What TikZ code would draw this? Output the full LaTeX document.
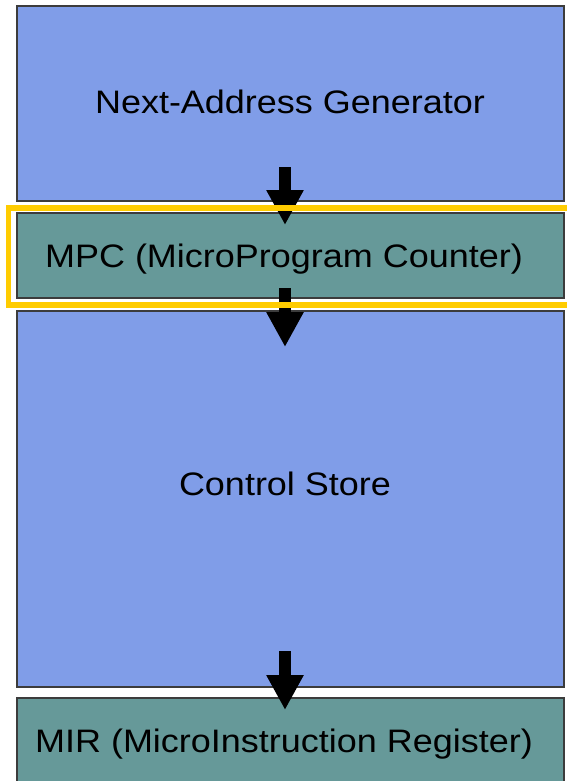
\documentclass[tikz,border=0pt]{standalone}
\usepackage{fontspec}
\setmainfont[FakeStretch=1.107]{Liberation Sans}
\usetikzlibrary{arrows.meta}

\definecolor{blockblue}{RGB}{128,157,232}
\definecolor{regteal}{RGB}{102,153,153}
\definecolor{hiyellow}{RGB}{255,204,0}
\definecolor{edgegray}{RGB}{60,60,60}

\tikzset{
  block/.style={draw=edgegray, line width=1.2pt},
  label/.style={anchor=base, inner sep=0pt, font=\fontsize{32.5}{36}\selectfont},
  flow/.style={line width=12pt, -{Triangle[width=35pt,length=35pt]}},
  highlight/.style={draw=hiyellow, line width=5.5pt}
}

\begin{document}
\begin{tikzpicture}[x=1pt,y=-1pt]
  \useasboundingbox (0,0) rectangle (567,781);
  \clip (0,0) rectangle (567,781);

  % stacked blocks
  \filldraw[block, fill=blockblue] (17,6) rectangle (564,201);
  \filldraw[block, fill=regteal]   (17,213) rectangle (564,298);
  \filldraw[block, fill=blockblue] (17,311) rectangle (564,687);
  \filldraw[block, fill=regteal]   (17,698) rectangle (564,800);

  % block titles
  \node[label] (nag) at (290,113.3) {Next-Address Generator};
  \node[label] (mpc) at (284,267.3) {MPC (MicroProgram Counter)};
  \node[label] (cs)  at (285,495)   {Control Store};
  \node[label] (mir) at (284,752.3) {MIR (MicroInstruction Register)};

  % arrow end points
  \coordinate (a1s) at (285,167);
  \coordinate (a1e) at (285,225);
  \coordinate (a2s) at (285,288);
  \coordinate (a2e) at (285,347);
  \coordinate (a3s) at (285,651);
  \coordinate (a3e) at (285,710);

  \draw[flow] (a1s) -- (a1e);
  \draw[flow] (a2s) -- (a2e);
  \draw[flow] (a3s) -- (a3e);

  % highlight frame around the MPC register
  \draw[highlight] (8.5,208) rectangle (580,305);
\end{tikzpicture}
\end{document}
